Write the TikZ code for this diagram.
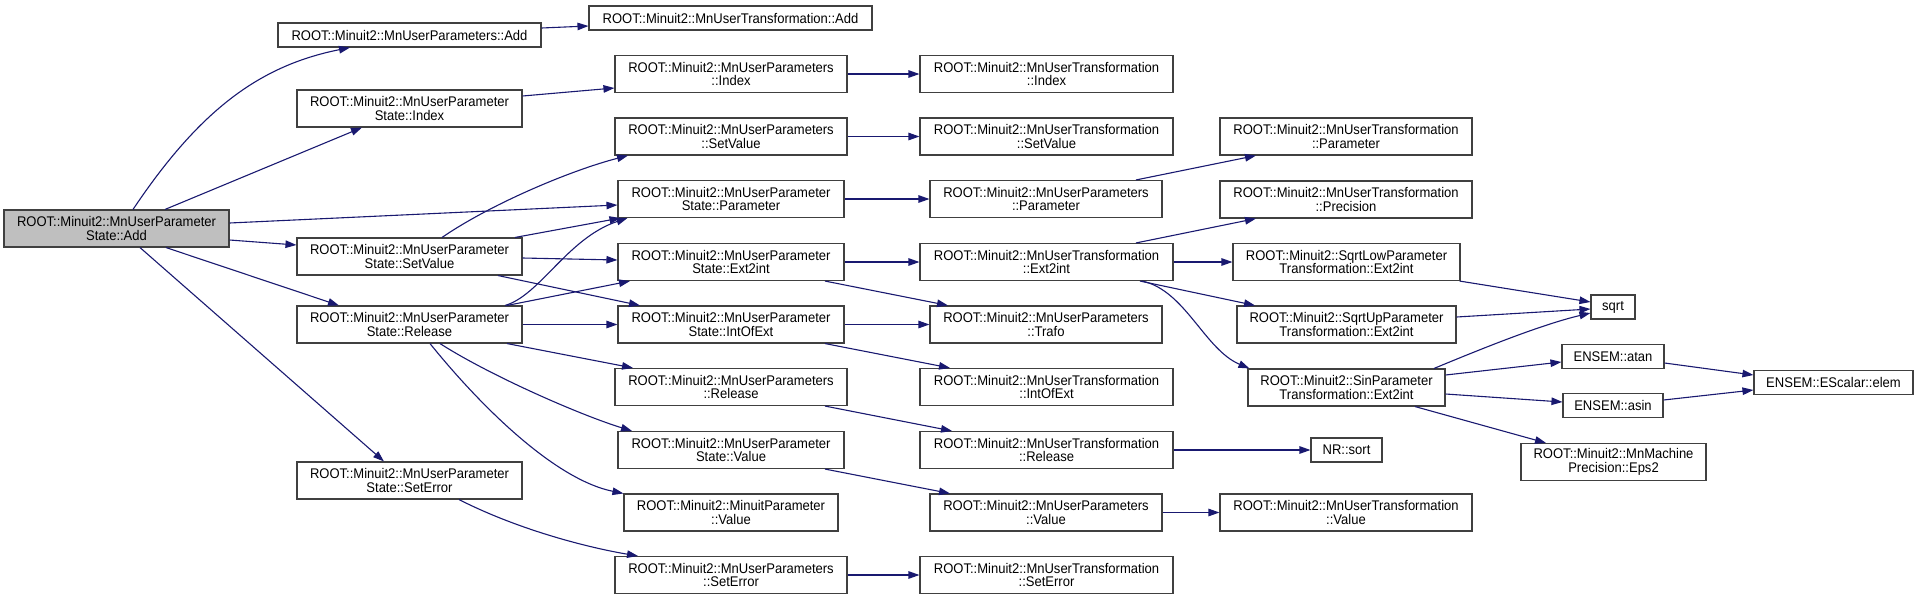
\documentclass[tikz,border=0pt]{standalone}
\usepackage{fontspec}
\setmainfont[FakeStretch=0.93]{Liberation Sans}
\usetikzlibrary{arrows.meta,calc}
\definecolor{edgeblue}{RGB}{25,25,112}
\definecolor{boxline}{RGB}{64,64,64}
\definecolor{rootfill}{RGB}{191,191,191}
\tikzset{
  fn/.style={draw=boxline, line width=1.1pt, fill=white, align=center, inner sep=0pt,
    minimum height=37pt, font=\fontsize{14}{13.5}\selectfont},
  fn1/.style={fn, minimum height=24pt},
  edge/.style={draw=edgeblue, line width=1.1pt, -{Triangle[length=11pt,width=7.5pt]}}
}
\begin{document}
\begin{tikzpicture}[x=1pt,y=-1pt]
\useasboundingbox (0,0) rectangle (1918,600);
% column 0
\node[fn, fill=rootfill, minimum width=225pt] (root) at (116.5,228.5) {ROOT::Minuit2::MnUserParameter\\State::Add};
% column 1
\node[fn1, minimum width=263pt] (upAdd) at (409.5,35) {ROOT::Minuit2::MnUserParameters::Add};
\node[fn, minimum width=225pt] (stIndex) at (409.5,108.5) {ROOT::Minuit2::MnUserParameter\\State::Index};
\node[fn, minimum width=225pt] (stSetValue) at (409.5,256.5) {ROOT::Minuit2::MnUserParameter\\State::SetValue};
\node[fn, minimum width=225pt] (stRelease) at (409.5,324.5) {ROOT::Minuit2::MnUserParameter\\State::Release};
\node[fn, minimum width=225pt] (stSetError) at (409.5,480.5) {ROOT::Minuit2::MnUserParameter\\State::SetError};
% column 2
\node[fn1, minimum width=283pt] (utAdd) at (730.5,18) {ROOT::Minuit2::MnUserTransformation::Add};
\node[fn, minimum width=232pt] (upIndex) at (731,74) {ROOT::Minuit2::MnUserParameters\\::Index};
\node[fn, minimum width=232pt] (upSetValue) at (731,136.5) {ROOT::Minuit2::MnUserParameters\\::SetValue};
\node[fn, minimum width=226pt] (stParam) at (731,199) {ROOT::Minuit2::MnUserParameter\\State::Parameter};
\node[fn, minimum width=226pt] (stExt2int) at (731,262) {ROOT::Minuit2::MnUserParameter\\State::Ext2int};
\node[fn, minimum width=226pt] (stIntOfExt) at (731,324.5) {ROOT::Minuit2::MnUserParameter\\State::IntOfExt};
\node[fn, minimum width=232pt] (upRelease) at (731,387) {ROOT::Minuit2::MnUserParameters\\::Release};
\node[fn, minimum width=226pt] (stValue) at (731,450) {ROOT::Minuit2::MnUserParameter\\State::Value};
\node[fn, minimum width=214pt] (mpValue) at (731,512.5) {ROOT::Minuit2::MinuitParameter\\::Value};
\node[fn, minimum width=232pt] (upSetError) at (731,575) {ROOT::Minuit2::MnUserParameters\\::SetError};
% column 3
\node[fn, minimum width=253pt] (utIndex) at (1046.5,74) {ROOT::Minuit2::MnUserTransformation\\::Index};
\node[fn, minimum width=253pt] (utSetValue) at (1046.5,136.5) {ROOT::Minuit2::MnUserTransformation\\::SetValue};
\node[fn, minimum width=232pt] (upParam) at (1046,199) {ROOT::Minuit2::MnUserParameters\\::Parameter};
\node[fn, minimum width=253pt] (utExt2int) at (1046.5,262) {ROOT::Minuit2::MnUserTransformation\\::Ext2int};
\node[fn, minimum width=232pt] (trafo) at (1046,324.5) {ROOT::Minuit2::MnUserParameters\\::Trafo};
\node[fn, minimum width=253pt] (utIntOfExt) at (1046.5,387) {ROOT::Minuit2::MnUserTransformation\\::IntOfExt};
\node[fn, minimum width=253pt] (utRelease) at (1046.5,450) {ROOT::Minuit2::MnUserTransformation\\::Release};
\node[fn, minimum width=232pt] (upValue) at (1046,512.5) {ROOT::Minuit2::MnUserParameters\\::Value};
\node[fn, minimum width=253pt] (utSetError) at (1046.5,575) {ROOT::Minuit2::MnUserTransformation\\::SetError};
% column 4
\node[fn, minimum width=252pt] (utParam) at (1346,136.5) {ROOT::Minuit2::MnUserTransformation\\::Parameter};
\node[fn, minimum width=252pt] (utPrecision) at (1346,199.5) {ROOT::Minuit2::MnUserTransformation\\::Precision};
\node[fn, minimum width=227pt] (sqrtLow) at (1346.5,262) {ROOT::Minuit2::SqrtLowParameter\\Transformation::Ext2int};
\node[fn, minimum width=219pt] (sqrtUp) at (1346.5,324.5) {ROOT::Minuit2::SqrtUpParameter\\Transformation::Ext2int};
\node[fn, minimum width=197pt] (sinT) at (1346.5,387.5) {ROOT::Minuit2::SinParameter\\Transformation::Ext2int};
\node[fn1, minimum width=71pt] (nrsort) at (1346.5,450) {NR::sort};
\node[fn, minimum width=252pt] (utValue) at (1346,512.5) {ROOT::Minuit2::MnUserTransformation\\::Value};
% column 5
\node[fn1, minimum width=44pt] (sqrtN) at (1613,307) {sqrt};
\node[fn1, minimum width=102pt] (atanN) at (1613,356.5) {ENSEM::atan};
\node[fn1, minimum width=100pt] (asinN) at (1613,405.5) {ENSEM::asin};
\node[fn, minimum width=185pt] (eps2) at (1613.5,462) {ROOT::Minuit2::MnMachine\\Precision::Eps2};
% column 6
\node[fn1, minimum width=159pt] (elem) at (1833.5,382.5) {ENSEM::EScalar::elem};

% edges from root
\draw[edge] ($(root.north)+(16.5,0)$) .. controls +(67,-100) and +(-90,18) .. ($(upAdd.south)+(-59.5,0)$);
\draw[edge] ($(root.north)+(48.5,0)$) -- ($(stIndex.south)+(-47.5,0)$);
\draw[edge] ($(root.east)+(0,-5.5)$) -- ($(stParam.west)+(0,6)$);
\draw[edge] ($(root.east)+(0,11.5)$) -- ($(stSetValue.west)+(0,-11.5)$);
\draw[edge] ($(root.south)+(49.5,0)$) -- ($(stRelease.north)+(-70.5,0)$);
\draw[edge] ($(root.south)+(23.5,0)$) -- ($(stSetError.north)+(-25.5,0)$);
% column 1 edges
\draw[edge] ($(upAdd.east)+(0,-7)$) -- ($(utAdd.west)+(0,8)$);
\draw[edge] ($(stIndex.east)+(0,-12.5)$) -- ($(upIndex.west)+(0,14)$);
\draw[edge] ($(stSetValue.north)+(32.5,0)$) .. controls +(48,-33) and +(-58,15) .. ($(upSetValue.south)+(-103,0)$);
\draw[edge] ($(stSetValue.north)+(105.5,0)$) -- ($(stParam.south west)+(3,0)$);
\draw[edge] ($(stSetValue.east)+(0,1.5)$) -- ($(stExt2int.west)+(0,-2)$);
\draw[edge] ($(stSetValue.south)+(88.5,0)$) -- ($(stIntOfExt.north)+(-91,0)$);
\draw[edge] ($(stRelease.north)+(95.5,0)$) .. controls +(35,-10) and +(-60,20) .. ($(stParam.south west)+(10,0)$);
\draw[edge] ($(stRelease.north)+(97.5,0)$) -- ($(stExt2int.south)+(-101,0)$);
\draw[edge] (stRelease.east) -- (stIntOfExt.west);
\draw[edge] ($(stRelease.south)+(97.5,0)$) -- ($(upRelease.north)+(-98,0)$);
\draw[edge] ($(stRelease.south)+(30.5,0)$) .. controls +(50,32) and +(-52,-16) .. ($(stValue.north)+(-99,0)$);
\draw[edge] ($(stRelease.south)+(20.5,0)$) .. controls +(50,62) and +(-69,-14) .. (mpValue.north west);
\draw[edge] ($(stSetError.south)+(49.5,0)$) .. controls +(61,31) and +(-48,-8) .. ($(upSetError.north)+(-93,0)$);
% column 2 edges
\draw[edge] (upIndex.east) -- (utIndex.west);
\draw[edge] (upSetValue.east) -- (utSetValue.west);
\draw[edge] (stParam.east) -- (upParam.west);
\draw[edge] (stExt2int.east) -- (utExt2int.west);
\draw[edge] ($(stExt2int.south)+(94,0)$) -- ($(trafo.north)+(-98,0)$);
\draw[edge] (stIntOfExt.east) -- (trafo.west);
\draw[edge] ($(stIntOfExt.south)+(94,0)$) -- ($(utIntOfExt.north)+(-96.5,0)$);
\draw[edge] ($(upRelease.south)+(94,0)$) -- ($(utRelease.north)+(-94.5,0)$);
\draw[edge] ($(stValue.south)+(94,0)$) -- ($(upValue.north)+(-96,0)$);
\draw[edge] (upSetError.east) -- (utSetError.west);
% column 3 edges
\draw[edge] ($(upParam.north)+(90,0)$) -- ($(utParam.south)+(-90,0)$);
\draw[edge] ($(utExt2int.north)+(89.5,0)$) -- ($(utPrecision.south)+(-90,0)$);
\draw[edge] (utExt2int.east) -- (sqrtLow.west);
\draw[edge] ($(utExt2int.south)+(93.5,0)$) -- ($(sqrtUp.north)+(-91.5,0)$);
\draw[edge] ($(utExt2int.south)+(95.5,0)$) .. controls +(43,9) and +(-45,-19) .. ($(sinT.north west)+(2,0)$);
\draw[edge] (utRelease.east) -- (nrsort.west);
\draw[edge] (upValue.east) -- (utValue.west);
% column 4 edges
\draw[edge] ($(sqrtLow.south east)+(-1,0)$) -- ($(sqrtN.west)+(0,-5)$);
\draw[edge] ($(sqrtUp.east)+(0,-7.5)$) -- ($(sqrtN.west)+(0,2)$);
\draw[edge] ($(sinT.north)+(87.5,0)$) .. controls +(41,-17) and +(-51,12) .. ($(sqrtN.west)+(0,6)$);
\draw[edge] ($(sinT.east)+(0,-12.5)$) -- ($(atanN.west)+(0,5.5)$);
\draw[edge] ($(sinT.east)+(0,6.5)$) -- ($(asinN.west)+(0,-3.5)$);
\draw[edge] ($(sinT.south)+(68.5,0)$) -- ($(eps2.north)+(-67.5,0)$);
% column 5 edges
\draw[edge] ($(atanN.east)+(0,6.5)$) -- ($(elem.west)+(0,-7.5)$);
\draw[edge] ($(asinN.east)+(0,-5.5)$) -- ($(elem.west)+(0,7.5)$);
\end{tikzpicture}
\end{document}
